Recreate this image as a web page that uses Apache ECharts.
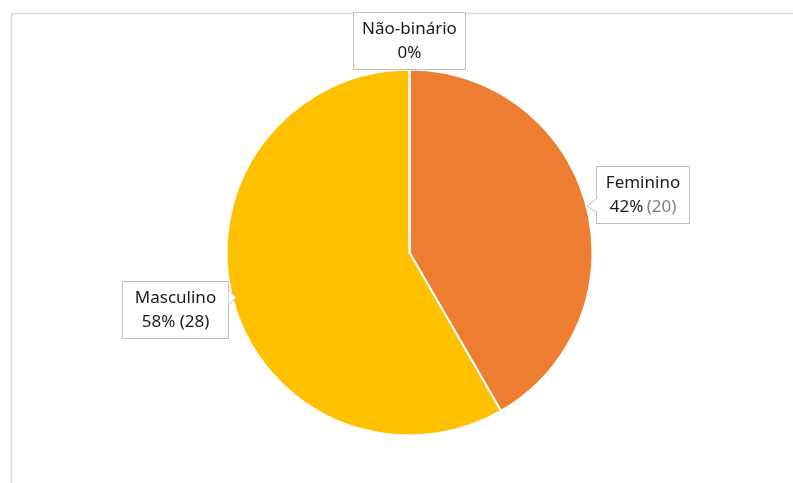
<!DOCTYPE html>
<html>
<head>
<meta charset="utf-8">
<script src="https://cdn.jsdelivr.net/npm/echarts@6/dist/echarts.min.js"></script>
<style>
  html, body { margin: 0; padding: 0; background: #fff; }
  #chart { width: 793px; height: 483px; }
</style>
</head>
<body>
<div id="chart"></div>
<script>
// Gender breakdown of respondents
const categories = ['Feminino', 'Masculino', 'Não-binário'];
const counts = [20, 28, 0];
const colors = ['#ED7D31', '#FFC000', '#A5A5A5'];

const total = counts.reduce((a, b) => a + b, 0);
const pct = v => Math.round(v / total * 100) + '%';

const FONT = 'Noto Sans';

// Callout box placement per category (centre of the box)
const boxPos = {
  'Feminino': { x: 643, y: 195, w: 76 },
  'Masculino': { x: 175.5, y: 310, w: 89 },
  'Não-binário': { x: 409.5, y: 41, w: 95 }
};

function labelText(name, value) {
  if (value === 0) return '{t|' + name + '}\n{t|' + pct(value) + '}';
  if (name === 'Feminino') return '{t|' + name + '}\n{t|' + pct(value) + '} {g|(' + value + ')}';
  return '{t|' + name + '}\n{t|' + pct(value) + ' (' + value + ')}';
}

const chart = echarts.init(document.getElementById('chart'), null, { renderer: 'canvas' });

// Small pointer notches on the callout boxes
function notch(pts, z) {
  return [
    { type: 'polygon', z: z, shape: { points: pts }, style: { fill: '#fff', stroke: null } },
    { type: 'polyline', z: z + 1, shape: { points: pts }, style: { stroke: '#BFBFBF', lineWidth: 1, fill: null } }
  ];
}

chart.setOption({
  animation: false,
  backgroundColor: '#fff',
  graphic: [
    { type: 'rect', z: -10, shape: { x: 11.5, y: 13.5, width: 900, height: 600 },
      style: { fill: null, stroke: '#D9D9D9', lineWidth: 1.5 } }
  ].concat(
    notch([[597.5, 198], [587, 206], [597.5, 213]], 200),
    notch([[228.5, 290], [236, 297.5], [228.5, 305]], 200)
  ),
  series: [{
    type: 'pie',
    center: [409.5, 252.5],
    radius: 183,
    startAngle: 90,
    clockwise: true,
    avoidLabelOverlap: false,
    stillShowZeroSum: true,
    itemStyle: { borderColor: '#fff', borderWidth: 2 },
    emphasis: { disabled: true },
    labelLine: { show: false },
    label: {
      show: true,
      position: 'outside',
      formatter: p => labelText(p.name, p.value),
      backgroundColor: '#fff',
      borderColor: '#BFBFBF',
      borderWidth: 1,
      padding: [4, 8, 4, 8],
      align: 'center',
      rich: {
        t: { fontFamily: FONT, fontSize: 17, color: '#1a1a1a', lineHeight: 24, align: 'center' },
        g: { fontFamily: FONT, fontSize: 17, color: '#7F7F7F', lineHeight: 24 }
      }
    },
    labelLayout: function (params) {
      const name = categories[params.dataIndex];
      const b = boxPos[name];
      return { x: b.x, y: b.y, align: 'center', verticalAlign: 'middle', hideOverlap: false };
    },
    data: categories.map((name, i) => ({
      name: name,
      value: counts[i],
      itemStyle: { color: colors[i] },
      label: { width: boxPos[name].w }
    }))
  }]
});
</script>
</body>
</html>
